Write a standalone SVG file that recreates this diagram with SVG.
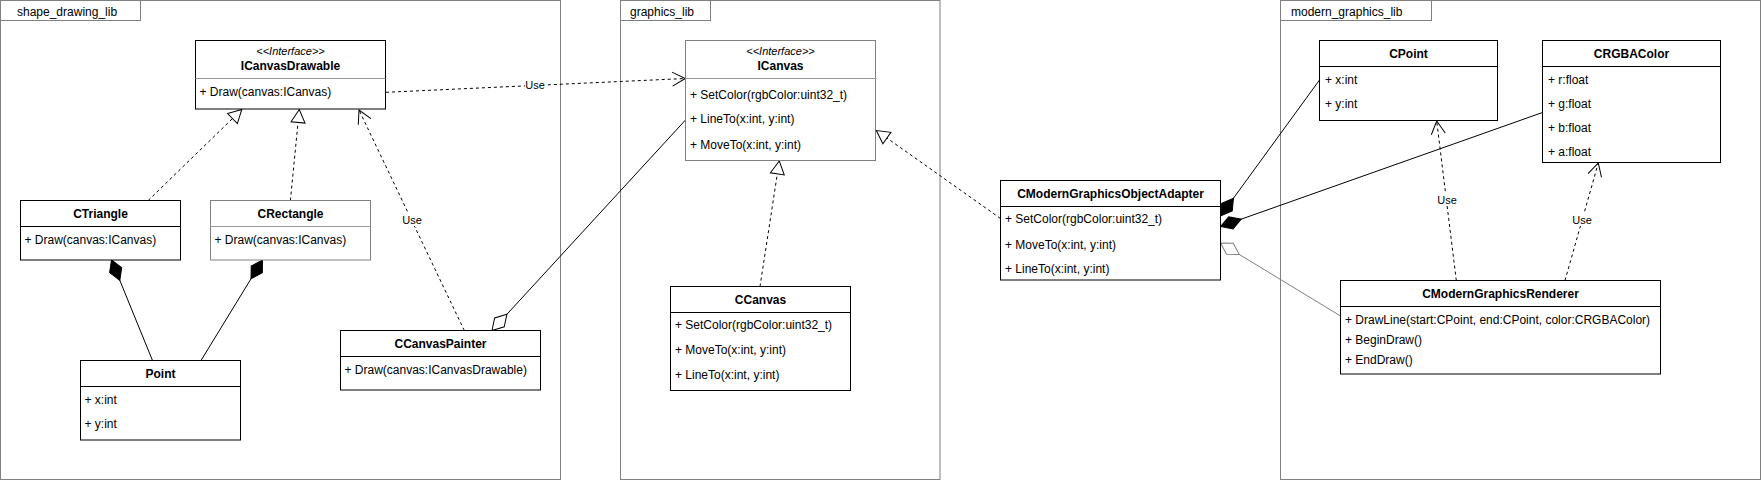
<svg xmlns="http://www.w3.org/2000/svg" width="1761" height="481" viewBox="0 0 1761 481">
<style>
text{font-family:"Liberation Sans",Arial,sans-serif;font-size:12px;fill:#000}
.frame{fill:none;stroke:#808080;stroke-width:1}
.tab{fill:#fff;stroke:#808080;stroke-width:1}
.box{fill:#fff;stroke:#000;stroke-width:1}
.gbox{fill:#fff;stroke:#808080;stroke-width:1}
.div{stroke:#000;stroke-width:1}
.gdiv{stroke:#999;stroke-width:1}
.name{font-weight:bold;text-anchor:middle}
.st{font-style:italic;text-anchor:middle;font-size:11px}
.lbl{font-size:11px;text-anchor:middle}
.lblbg{fill:#fff}
.ln{fill:none;stroke:#000;stroke-width:1}
.dash{stroke-dasharray:3 3}
.gray{stroke:#808080}
</style>
<defs>
<marker id="tri" markerUnits="userSpaceOnUse" viewBox="-15 -9 17 18" markerWidth="17" markerHeight="18" refX="0" refY="0" orient="auto">
<path d="M0,0 L-13,-7 L-13,7 Z" fill="#fff" stroke="#000" stroke-width="1"/>
</marker>
<marker id="open" markerUnits="userSpaceOnUse" viewBox="-15 -9 17 18" markerWidth="17" markerHeight="18" refX="0" refY="0" orient="auto">
<path d="M-13,-7 L0,0 L-13,7" fill="none" stroke="#000" stroke-width="1"/>
</marker>
<marker id="dfill" markerUnits="userSpaceOnUse" viewBox="-2 -8 26 16" markerWidth="26" markerHeight="16" refX="0" refY="0" orient="auto">
<path d="M0,0 L11,-6.5 L22,0 L11,6.5 Z" fill="#000" stroke="#000" stroke-width="1"/>
</marker>
<marker id="dhollow" markerUnits="userSpaceOnUse" viewBox="-2 -8 26 16" markerWidth="26" markerHeight="16" refX="0" refY="0" orient="auto">
<path d="M0,0 L11,-6.5 L22,0 L11,6.5 Z" fill="#fff" stroke="#000" stroke-width="1"/>
</marker>
<marker id="dhollowg" markerUnits="userSpaceOnUse" viewBox="-2 -8 26 16" markerWidth="26" markerHeight="16" refX="0" refY="0" orient="auto">
<path d="M0,0 L11,-6.5 L22,0 L11,6.5 Z" fill="#fff" stroke="#808080" stroke-width="1"/>
</marker>
</defs>
<rect x="0" y="0" width="1761" height="481" fill="#fff"/>
<g id="packages">
<g id="pkg-shape_drawing_lib">
<rect class="frame" x="0.5" y="0.5" width="560" height="479"/>
<rect class="tab" x="0.5" y="0.5" width="140" height="20"/>
<text x="17" y="15.5">shape_drawing_lib</text>
</g>
<g id="pkg-graphics_lib">
<rect class="frame" x="620.5" y="0.5" width="319.5" height="479"/>
<rect class="tab" x="620.5" y="0.5" width="90" height="20"/>
<text x="630" y="15.5">graphics_lib</text>
</g>
<g id="pkg-modern_graphics_lib">
<rect class="frame" x="1280.5" y="0.5" width="480" height="479"/>
<rect class="tab" x="1280.5" y="0.5" width="151" height="20"/>
<text x="1291" y="15.5">modern_graphics_lib</text>
</g>
</g>
<g id="connectors">
<path class="ln dash" d="M386,92.3 L685.3,78.5" marker-end="url(#open)"/>
<rect class="lblbg" x="525" y="79" width="20" height="12"/>
<text class="lbl" x="535" y="89">Use</text>
<path class="ln dash" d="M148.2,200.5 L241.8,109.5" marker-end="url(#tri)"/>
<path class="ln dash" d="M290.4,200.5 L299.3,109.5" marker-end="url(#tri)"/>
<path class="ln dash" d="M464.3,330.5 L359,110" marker-end="url(#open)"/>
<rect class="lblbg" x="402" y="214" width="20" height="12"/>
<text class="lbl" x="412" y="224">Use</text>
<path class="ln" d="M111.5,260 L152.5,360.5" marker-start="url(#dfill)"/>
<path class="ln" d="M262.5,260 L201,360.5" marker-start="url(#dfill)"/>
<path class="ln" d="M492,330.5 L685.5,120" marker-start="url(#dhollow)"/>
<path class="ln dash" d="M760,286.5 L779.3,161" marker-end="url(#tri)"/>
<path class="ln dash" d="M1000.5,218.5 L876.3,130.5" marker-end="url(#tri)"/>
<path class="ln" d="M1220.5,216 L1319.5,80" marker-start="url(#dfill)"/>
<path class="ln" d="M1220.5,226.5 L1542.5,112.5" marker-start="url(#dfill)"/>
<path class="ln gray" d="M1220.5,243 L1340.5,316" marker-start="url(#dhollowg)"/>
<path class="ln dash" d="M1456.3,280.5 L1436.7,121" marker-end="url(#open)"/>
<rect class="lblbg" x="1437" y="194" width="20" height="12"/>
<text class="lbl" x="1447" y="204">Use</text>
<path class="ln dash" d="M1565,280.5 L1598.3,163" marker-end="url(#open)"/>
<rect class="lblbg" x="1572" y="214" width="20" height="12"/>
<text class="lbl" x="1582" y="224">Use</text>
</g>
<g id="ICanvasDrawable">
<rect class="box" x="195.5" y="40.5" width="190" height="68.5"/>
<line class="gdiv" x1="195.5" y1="78.5" x2="385.5" y2="78.5"/>
<text class="st" x="290.5" y="55">&lt;&lt;Interface&gt;&gt;</text>
<text class="name" x="290.5" y="69.5">ICanvasDrawable</text>
<text x="199.5" y="96">+ Draw(canvas:ICanvas)</text>
</g>
<g id="CTriangle">
<rect class="box" x="20.5" y="200.5" width="160" height="59.5"/>
<line class="div" x1="20.5" y1="226.5" x2="180.5" y2="226.5"/>
<text class="name" x="100.5" y="217.5">CTriangle</text>
<text x="24.5" y="244">+ Draw(canvas:ICanvas)</text>
</g>
<g id="CRectangle">
<rect class="gbox" x="210.5" y="200.5" width="160" height="59.5"/>
<line class="gdiv" x1="210.5" y1="226.5" x2="370.5" y2="226.5"/>
<text class="name" x="290.5" y="217.5">CRectangle</text>
<text x="214.5" y="244">+ Draw(canvas:ICanvas)</text>
</g>
<g id="Point">
<rect class="box" x="80.5" y="360.5" width="160" height="79.5"/>
<line class="div" x1="80.5" y1="386.5" x2="240.5" y2="386.5"/>
<text class="name" x="160.5" y="377.5">Point</text>
<text x="84.5" y="404">+ x:int</text>
<text x="84.5" y="427.5">+ y:int</text>
</g>
<g id="CCanvasPainter">
<rect class="box" x="340.5" y="330.5" width="200" height="59.5"/>
<line class="div" x1="340.5" y1="356.5" x2="540.5" y2="356.5"/>
<text class="name" x="440.5" y="348">CCanvasPainter</text>
<text x="344.5" y="374">+ Draw(canvas:ICanvasDrawable)</text>
</g>
<g id="ICanvas">
<rect class="gbox" x="685.5" y="40.5" width="190" height="120"/>
<line class="gdiv" x1="685.5" y1="78.5" x2="876.5" y2="78.5"/>
<text class="st" x="780.5" y="55">&lt;&lt;Interface&gt;&gt;</text>
<text class="name" x="780.5" y="69.5">ICanvas</text>
<text x="690" y="98.5">+ SetColor(rgbColor:uint32_t)</text>
<text x="690" y="123">+ LineTo(x:int, y:int)</text>
<text x="690" y="148.5">+ MoveTo(x:int, y:int)</text>
</g>
<g id="CCanvas">
<rect class="box" x="670.5" y="286.5" width="180" height="104"/>
<line class="div" x1="670.5" y1="312.5" x2="850.5" y2="312.5"/>
<text class="name" x="760.5" y="304">CCanvas</text>
<text x="675" y="329">+ SetColor(rgbColor:uint32_t)</text>
<text x="675" y="354">+ MoveTo(x:int, y:int)</text>
<text x="675" y="379">+ LineTo(x:int, y:int)</text>
</g>
<g id="CModernGraphicsObjectAdapter">
<rect class="box" x="1000.5" y="180.5" width="220" height="99.5"/>
<line class="div" x1="1000.5" y1="206.5" x2="1220.5" y2="206.5"/>
<text class="name" x="1110.5" y="197.5">CModernGraphicsObjectAdapter</text>
<text x="1005" y="222.5">+ SetColor(rgbColor:uint32_t)</text>
<text x="1005" y="248.5">+ MoveTo(x:int, y:int)</text>
<text x="1005" y="272.5">+ LineTo(x:int, y:int)</text>
</g>
<g id="CPoint">
<rect class="box" x="1319.5" y="40.5" width="178" height="80"/>
<line class="div" x1="1319.5" y1="66.5" x2="1497.5" y2="66.5"/>
<text class="name" x="1408.5" y="57.5">CPoint</text>
<text x="1325" y="84">+ x:int</text>
<text x="1325" y="108">+ y:int</text>
</g>
<g id="CRGBAColor">
<rect class="box" x="1542.5" y="40.5" width="178" height="122"/>
<line class="div" x1="1542.5" y1="66.5" x2="1720.5" y2="66.5"/>
<text class="name" x="1631.5" y="57.5">CRGBAColor</text>
<text x="1548" y="84">+ r:float</text>
<text x="1548" y="108">+ g:float</text>
<text x="1548" y="131.5">+ b:float</text>
<text x="1548" y="155.5">+ a:float</text>
</g>
<g id="CModernGraphicsRenderer">
<rect class="box" x="1340.5" y="280.5" width="320" height="93.5"/>
<line class="div" x1="1340.5" y1="306.5" x2="1660.5" y2="306.5"/>
<text class="name" x="1500.5" y="297.5">CModernGraphicsRenderer</text>
<text x="1345" y="323.5">+ DrawLine(start:CPoint, end:CPoint, color:CRGBAColor)</text>
<text x="1345" y="344">+ BeginDraw()</text>
<text x="1345" y="364">+ EndDraw()</text>
</g>
</svg>
